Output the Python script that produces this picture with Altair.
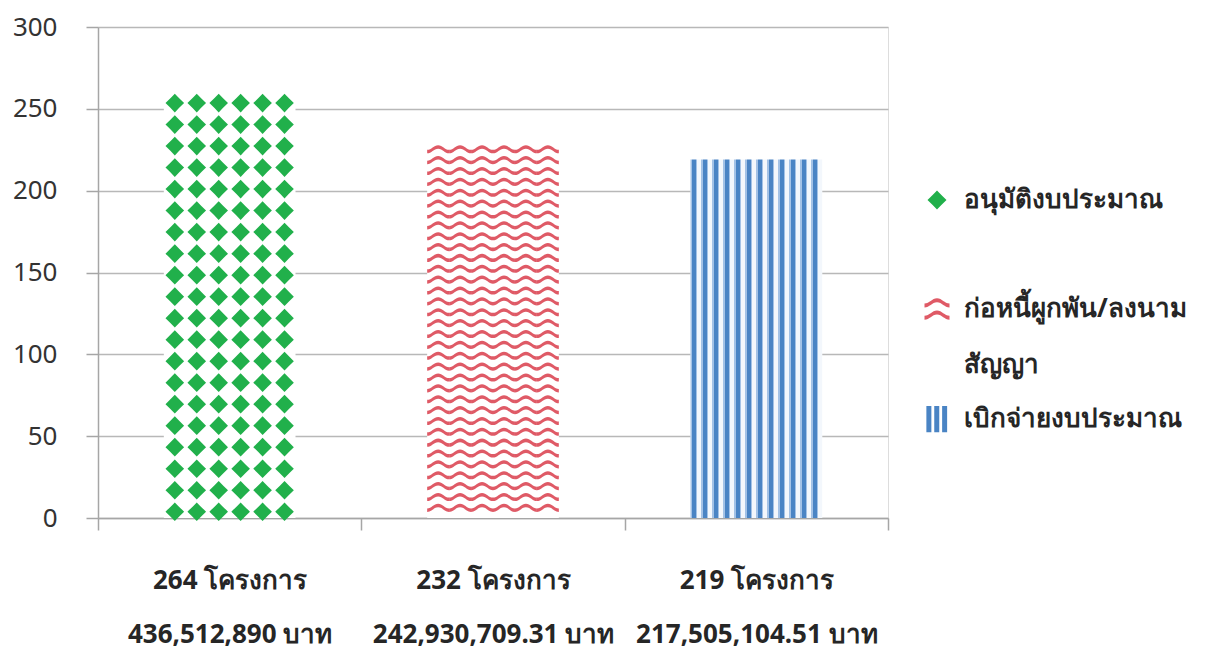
import json
import altair as alt
import pandas as pd

# ---- data ----
series = ["อนุมัติงบประมาณ", "ก่อหนี้ผูกพัน/ลงนาม|สัญญา", "เบิกจ่ายงบประมาณ"]
values = [264, 232, 219]
projects = ["264 โครงการ", "232 โครงการ", "219 โครงการ"]
amounts = ["436,512,890 บาท", "242,930,709.31 บาท", "217,505,104.51 บาท"]
y_ticks = [0, 50, 100, 150, 200, 250, 300]

# ---- styles ----
FONT = "Noto Sans"
GREEN, RED, BLUE = "#21b04b", "#df5a66", "#4a84c4"
GRAY = "#a6a6a6"
GRID = "#b8b8b8"
TEXT = "#262626"

df = pd.DataFrame({"series": series, "value": values, "idx": list(range(len(series)))})
label_lines = [[p, a] for p, a in zip(projects, amounts)]

# pattern symbols (SVG paths in the unit square)
DIAMOND = ("M0,-0.76 Q0.37,-0.37 0.76,0 Q0.37,0.37 0,0.76 "
           "Q-0.37,0.37 -0.76,0 Q-0.37,-0.37 0,-0.76 Z")


def wave(r, A=0.21, t=0.32):
    top = r - t / 2
    bot = r + t / 2
    f = lambda v: f"{v:.3f}"
    return (f"M-1,{f(top + A)} C-0.6,{f(top + A)} -0.4,{f(top - A)} 0,{f(top - A)} "
            f"C0.4,{f(top - A)} 0.6,{f(top + A)} 1,{f(top + A)} "
            f"L1,{f(bot + A)} C0.6,{f(bot + A)} 0.4,{f(bot - A)} 0,{f(bot - A)} "
            f"C-0.4,{f(bot - A)} -0.6,{f(bot + A)} -1,{f(bot + A)} Z")


WAVES = wave(-0.495) + " " + wave(0.495)
STRIPES = ("M-0.85,-1.05H-0.45V1.05H-0.85Z M-0.22,-1.05H0.18V1.05H-0.22Z "
           "M0.41,-1.05H0.81V1.05H0.41Z")

# blue vertical stripes as hard-stop gradient
stops = []
n_str = 12
for i in range(n_str):
    o = i / n_str
    w = 1 / n_str
    seg = [(0.0, 0.12, "#a3c2e6"), (0.12, 0.50, BLUE), (0.50, 0.62, "#a3c2e6"), (0.62, 1.0, "#f3f7fc")]
    for a, b, c in seg:
        stops.append(alt.GradientStop(color=c, offset=round(o + a * w, 5)))
        stops.append(alt.GradientStop(color=c, offset=round(min(o + b * w, 1.0), 5)))
stripe_fill = alt.LinearGradient(gradient="linear", stops=stops, x1=0, x2=1, y1=0, y2=0)

n = len(series)
x_vals = [i / 2 for i in range(2 * n + 1)]
x_axis = alt.Axis(title=None, values=x_vals,
                  labelExpr=(f"datum.value % 1 == 0 ? '' : "
                             f"{json.dumps(label_lines, ensure_ascii=False)}[floor(datum.value)]"),
                  labelAngle=0, labelFont=FONT, labelFontSize=26, labelFontWeight="bold",
                  labelColor=TEXT, labelPadding=37, labelLineHeight=54, labelLimit=0,
                  labelOverlap=False, labelFlush=False,
                  tickSize=12, tickColor=GRAY, tickWidth=1.5,
                  tickOpacity={"condition": {"test": "datum.value % 1 == 0", "value": 1}, "value": 0},
                  domainColor=GRAY, domainWidth=1.5, grid=False)
y_axis = alt.Axis(title=None, values=y_ticks, grid=True, gridColor=GRID, gridWidth=1.5,
                  domainColor=GRAY, domainWidth=1.5, tickColor=GRAY, tickWidth=1.5,
                  tickSize=12, labelFont=FONT, labelFontSize=26, labelColor="#333333",
                  labelPadding=29)

x_scale = alt.Scale(domain=[0, n], nice=False, zero=False)
y_scale = alt.Scale(domain=[0, 300], nice=False, padding=0)

first = series[0]
legend = alt.Legend(title=None, orient="none", legendX=826, legendY=160,
                    symbolSize=625, symbolStrokeWidth=0, labelFont=FONT,
                    labelFontSize=26, labelFontWeight="bold", labelColor=TEXT,
                    labelOffset=14, labelLimit=400,
                    labelExpr=(f"indexof(datum.label, '|') >= 0 ? split(datum.label, '|') : "
                               f"(datum.label == '{first}' ? [datum.label, ''] : datum.label)"),
                    rowPadding=27, padding=0, labelBaseline="middle")
COLOR = alt.Color("series:N", scale=alt.Scale(domain=series, range=[GREEN, RED, BLUE]), legend=legend)
SHAPE = alt.Shape("series:N", scale=alt.Scale(domain=series, range=[DIAMOND, WAVES, STRIPES]), legend=legend)

base = alt.Chart(df).transform_calculate(x0="datum.idx + 0.25", x1="datum.idx + 0.75")

Y_BAR = alt.Y("value:Q", scale=y_scale, axis=y_axis)
X_BAR = alt.X("x0:Q", scale=x_scale, axis=x_axis)

white_bars = base.mark_bar(fill="white").encode(x=X_BAR, x2="x1:Q", y=Y_BAR, y2=alt.datum(0))

blue_bar = base.transform_filter(alt.datum.series == series[2]).mark_bar(
    fill=stripe_fill).encode(x=X_BAR, x2="x1:Q", y=Y_BAR, y2=alt.datum(0))


def pattern(idx, y0, step, margin, size):
    return (base.transform_filter(alt.datum.series == series[idx])
            .transform_calculate(col="sequence(0, 6)")
            .transform_flatten(["col"])
            .transform_calculate(row="sequence(0, 30)")
            .transform_flatten(["row"])
            .transform_calculate(py=f"{y0} + datum.row * {step}",
                                 px=f"datum.idx + 0.25 + (datum.col + 0.5) * {0.5 / 6}")
            .transform_filter(f"datum.py <= datum.value - {margin}")
            .mark_point(filled=True, size=size, opacity=1, strokeWidth=0)
            .encode(x=alt.X("px:Q", scale=x_scale, axis=x_axis),
                    y=alt.Y("py:Q", scale=y_scale, axis=y_axis),
                    color=COLOR, shape=SHAPE))


green_pts = pattern(0, 3.85, 13.14, 4, 600)
red_pts = pattern(1, 9.5, 13.28, 7, 482)

chart = alt.layer(white_bars, blue_bar, green_pts, red_pts).properties(
    width=790, height=491,
    padding={"left": 90, "top": 19, "right": 310, "bottom": 136},
    autosize=alt.AutoSizeParams(type="none"),
).configure_view(stroke=None).configure(style={"guide-label": {"lineHeight": 56}})

chart.save("out.html", embed_options={"renderer": "svg", "actions": False})
